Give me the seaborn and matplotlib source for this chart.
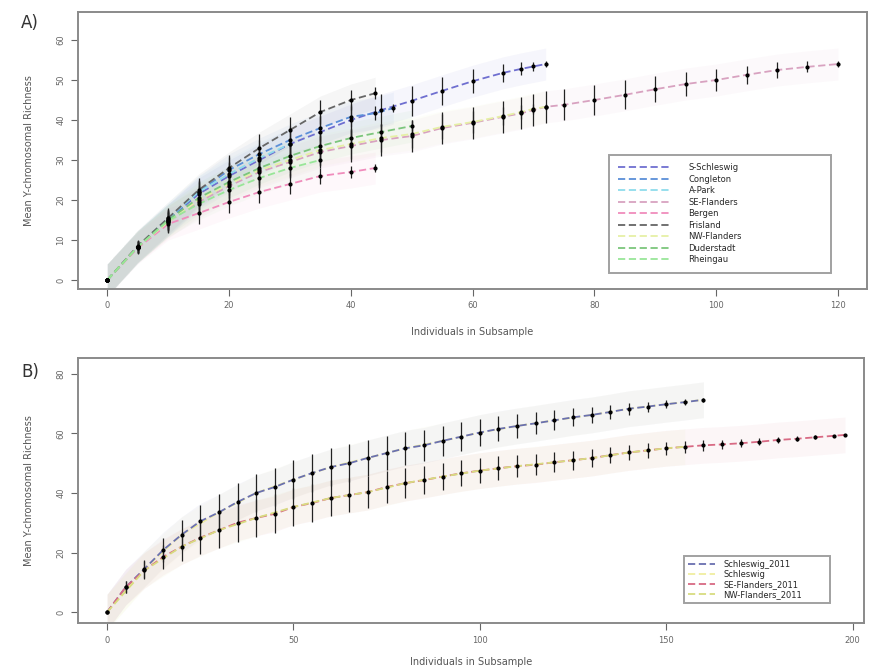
import matplotlib
matplotlib.use("Agg")
import matplotlib.pyplot as plt
import seaborn as sns
import pandas as pd
import numpy as np

# ---- panel A data ----
a_names = ["S-Schleswig", "Congleton", "A-Park", "SE-Flanders", "Bergen",
           "Frisland", "NW-Flanders", "Duderstadt", "Rheingau"]
a_colors = ["#6f6fd0", "#5b8fd8", "#8fdcec", "#d8a2c0", "#f08cbc",
            "#666666", "#e6f0a6", "#7cc67c", "#98e698"]

a_x = {
    "S-Schleswig": [0, 5, 10, 15, 20, 25, 30, 35, 40, 45, 50, 55, 60, 65, 68, 70, 72],
    "Congleton": [0, 5, 10, 15, 20, 25, 30, 35, 40, 44, 47],
    "A-Park": [0, 5, 10, 15, 20, 25, 30],
    "SE-Flanders": [0, 5, 10, 15, 20, 25, 30, 35, 40, 45, 50, 55, 60, 65, 68, 70, 72,
                    75, 80, 85, 90, 95, 100, 105, 110, 115, 120],
    "Bergen": [0, 5, 10, 15, 20, 25, 30, 35, 40, 44],
    "Frisland": [0, 5, 10, 15, 20, 25, 30, 35, 40, 44],
    "NW-Flanders": [0, 5, 10, 15, 20, 25, 30, 35, 40, 45, 50, 55, 60, 65, 68, 70, 72],
    "Duderstadt": [0, 5, 10, 15, 20, 25, 30, 35, 40, 45, 50],
    "Rheingau": [0, 5, 10, 15, 20, 25, 30, 35],
}
a_y = {
    "S-Schleswig": [0, 8.3, 15, 21.5, 26, 30, 34, 37, 40, 42.5, 44.8, 47.3, 49.7, 51.8, 52.8, 53.4, 54],
    "Congleton": [0, 8.3, 15, 22, 27.5, 31.5, 35, 38, 40.8, 41.7, 43],
    "A-Park": [0, 8.3, 15.5, 22, 26.5, 30.5, 34],
    "SE-Flanders": [0, 8.3, 14.5, 19.5, 23.5, 27, 29.5, 32, 33.5, 35, 36, 38, 39.3, 40.8, 41.7,
                    42.5, 43.3, 43.8, 45, 46.3, 47.7, 49, 50, 51.3, 52.5, 53.3, 54],
    "Bergen": [0, 8, 14, 16.7, 19.5, 22, 24, 26, 27, 28],
    "Frisland": [0, 8.5, 15.5, 22.5, 28, 33, 37.5, 42, 45, 46.7],
    "NW-Flanders": [0, 8.3, 14.5, 20, 24, 27.5, 30, 32.5, 34, 35.5, 36.5, 38.3, 39.5, 41, 42, 42.8, 43.3],
    "Duderstadt": [0, 8.3, 15, 20.5, 24.5, 28, 31, 33.5, 35.5, 37, 38.5],
    "Rheingau": [0, 8.2, 14.8, 19, 22.5, 25.5, 28, 30],
}
a_err = {
    "S-Schleswig": [0, 1.5, 2.5, 3, 3.5, 3.8, 4, 4, 4, 4, 3.8, 3.5, 3, 2.2, 1.6, 1.2, 0.8],
    "Congleton": [0, 1.5, 2.5, 3, 3.3, 3.5, 3.5, 3.2, 2.6, 1.8, 1],
    "A-Park": [0, 1.5, 2.3, 2.8, 2.8, 2.2, 1],
    "SE-Flanders": [0, 1.5, 2.5, 3, 3.5, 3.8, 4, 4, 4, 4, 4, 4, 4, 4, 4, 4, 4,
                    3.9, 3.8, 3.6, 3.3, 3, 2.7, 2.3, 1.9, 1.4, 0.8],
    "Bergen": [0, 1.5, 2.3, 2.7, 2.8, 2.7, 2.5, 2.1, 1.6, 1],
    "Frisland": [0, 1.5, 2.5, 3, 3.3, 3.4, 3.3, 3, 2.4, 1.5],
    "NW-Flanders": [0, 1.5, 2.5, 3, 3.5, 3.7, 3.8, 3.8, 3.7, 3.6, 3.4, 3.1, 2.8, 2.2, 1.7, 1.3, 0.8],
    "Duderstadt": [0, 1.5, 2.4, 3, 3.3, 3.4, 3.3, 3, 2.6, 2, 1.2],
    "Rheingau": [0, 1.5, 2.3, 2.7, 2.8, 2.6, 2.2, 1.5],
}

# ---- panel B data ----
b_names = ["Schleswig_2011", "Schleswig", "SE-Flanders_2011", "NW-Flanders_2011"]
b_colors = ["#6a70b0", "#f0eea0", "#d86a84", "#d8dc80"]

b_x = {
    "Schleswig_2011": [0, 5, 10, 15, 20, 25, 30, 35, 40, 45, 50, 55, 60, 65, 70, 75, 80, 85, 90,
                       95, 100, 105, 110, 115, 120, 125, 130, 135, 140, 145, 150, 155, 160],
    "Schleswig": [0, 10, 20, 30, 40, 50, 60, 70, 80, 90, 100, 110, 120, 130, 140, 150, 160],
    "SE-Flanders_2011": [0, 5, 10, 15, 20, 25, 30, 35, 40, 45, 50, 55, 60, 65, 70, 75, 80, 85, 90,
                         95, 100, 105, 110, 115, 120, 125, 130, 135, 140, 145, 150, 155, 160,
                         165, 170, 175, 180, 185, 190, 195, 198],
    "NW-Flanders_2011": [0, 10, 20, 30, 40, 50, 60, 70, 80, 90, 100, 110, 120, 130, 140, 150, 155],
}
b_y = {
    "Schleswig_2011": [0, 8.4, 14.5, 20.8, 26, 30.5, 33.5, 37, 40, 42, 44.5, 46.7, 48.7, 50, 51.8,
                       53.4, 55, 56, 57.5, 58.9, 60.3, 61.5, 62.5, 63.4, 64.4, 65.4, 66.2, 67.2,
                       68.3, 69, 69.8, 70.5, 71.3],
    "Schleswig": [0, 14.5, 26, 33.5, 40, 44.5, 48.7, 51.8, 55, 57.5, 60.3, 62.5, 64.4, 66.2,
                  68.3, 69.8, 71.3],
    "SE-Flanders_2011": [0, 8.4, 14, 18.5, 22, 25, 27.5, 30, 31.6, 33, 35.3, 36.6, 38.3, 39.3,
                         40.3, 42, 43.3, 44.3, 45.5, 46.6, 47.5, 48.3, 49, 49.5, 50.3, 51, 51.7,
                         52.7, 53.6, 54.3, 55, 55.5, 56, 56.3, 56.7, 57.2, 57.8, 58.2, 58.7,
                         59.2, 59.5],
    "NW-Flanders_2011": [0, 14, 22, 27.5, 31.6, 35.3, 38.3, 40.3, 43.3, 45.5, 47.5, 49, 50.3,
                         51.7, 53.6, 55, 55.5],
}
b_err = {
    "Schleswig_2011": [0, 2, 3, 4, 5, 5.5, 6, 6.5, 6.5, 6.5, 6.5, 6.5, 6.5, 6.3, 6, 5.8, 5.5, 5.3,
                       5, 4.8, 4.5, 4.2, 4, 3.7, 3.4, 3, 2.7, 2.4, 2, 1.7, 1.3, 1, 0.6],
    "SE-Flanders_2011": [0, 2, 3, 4, 5, 5.5, 6, 6.3, 6.5, 6.5, 6.5, 6.3, 6, 5.8, 5.5, 5.3, 5,
                         4.8, 4.6, 4.4, 4.2, 4, 3.8, 3.6, 3.4, 3.2, 3, 2.8, 2.6, 2.4, 2.2, 2,
                         1.8, 1.6, 1.4, 1.2, 1, 0.8, 0.6, 0.4, 0.2],
}
# drawing order on top of the others (pale lower curve of B sits over the red one)
on_top = ["NW-Flanders_2011"]


def draw_panel(ax, names, colors, xs, ys, errs, band):
    for name, col in zip(names, colors):
        df = pd.DataFrame({"x": xs[name], "y": ys[name]})
        y = np.array(ys[name])
        z = 3 if (name in errs or name in on_top) else 1.5
        if name in on_top:
            z = 3.5
        ax.fill_between(df["x"], y - band, y + band, color=col, alpha=0.06, lw=0, zorder=1)
        sns.lineplot(data=df, x="x", y="y", ax=ax, color=col, lw=1.3,
                     linestyle=(0, (4, 2)), label=name, legend=False, zorder=z)
        if name in errs:
            ax.errorbar(df["x"], df["y"], yerr=errs[name], fmt="o", ms=2.0,
                        color="black", ecolor="#222222", elinewidth=0.9, capsize=0, zorder=4)


sns.set_style("ticks")
plt.rcParams["font.family"] = ["DejaVu Sans"]

fig = plt.figure(figsize=(8.71, 6.70), dpi=100)
axA = fig.add_axes([0.0896, 0.569, 0.906, 0.413])
axB = fig.add_axes([0.0896, 0.070, 0.902, 0.396])

draw_panel(axA, a_names, a_colors, a_x, a_y, a_err, 4.0)
draw_panel(axB, b_names, b_colors, b_x, b_y, b_err, 6.0)

axA.set_xlim(-4.8, 124.8)
axA.set_ylim(-2.2, 67)
axA.set_xticks([0, 20, 40, 60, 80, 100, 120])
axA.set_yticks([0, 10, 20, 30, 40, 50, 60])

axB.set_xlim(-7.8, 203)
axB.set_ylim(-3.7, 85.4)
axB.set_xticks([0, 50, 100, 150, 200])
axB.set_yticks([0, 20, 40, 60, 80])

for ax in (axA, axB):
    for sp in ax.spines.values():
        sp.set_visible(True)
        sp.set_color("#8a8a8a")
        sp.set_linewidth(1.4)
    ax.tick_params(axis="both", labelsize=6, colors="#666666", length=5, width=0.8, pad=4)
    for lab in ax.get_yticklabels():
        lab.set_rotation(90)
        lab.set_va("center")
    ax.set_xlabel("Individuals in Subsample", fontsize=7, color="#555555", labelpad=12)
    ax.set_ylabel("Mean Y-chromosomal Richness", fontsize=7, color="#555555", labelpad=16)
axB.xaxis.labelpad = 9

legA = axA.legend(loc="lower left", bbox_to_anchor=(0.668, 0.043, 0.2915, 0.4), mode="expand",
                  fontsize=6, frameon=True, fancybox=False, edgecolor="#8a8a8a",
                  handlelength=6.5, borderpad=1.0, labelspacing=0.3, handletextpad=2.0)
legA.get_frame().set_linewidth(1.4)
legB = axB.legend(loc="lower left", bbox_to_anchor=(0.766, 0.06, 0.197, 0.2), mode="expand",
                  fontsize=6, frameon=True, fancybox=False, edgecolor="#8a8a8a",
                  handlelength=3.2, borderpad=0.5, labelspacing=0.12, handletextpad=1.0)
legB.get_frame().set_linewidth(1.4)

fig.text(0.024, 0.958, "A)", fontsize=12, color="#333333")
fig.text(0.024, 0.437, "B)", fontsize=12, color="#333333")

fig.savefig("out.png", dpi=100)
